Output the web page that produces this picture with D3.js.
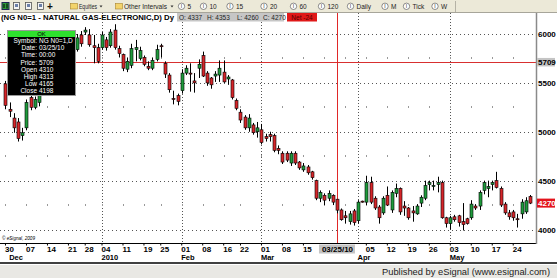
<!DOCTYPE html>
<html>
<head>
<meta charset="utf-8">
<script src="https://cdnjs.cloudflare.com/ajax/libs/d3/7.8.5/d3.min.js"></script>
<style>
body { margin: 0; background: #fff; overflow: hidden; }
</style>
</head>
<body>
<div id="canvas"></div>
<script>
var width = 557;
var height = 278;

// trading days on the chart (NG continuous, daily)
var dates = [
  "2009-11-30","2009-12-01","2009-12-02","2009-12-03","2009-12-04",
  "2009-12-07","2009-12-08","2009-12-09","2009-12-10","2009-12-11",
  "2009-12-14","2009-12-15","2009-12-16","2009-12-17","2009-12-18",
  "2009-12-21","2009-12-22","2009-12-23","2009-12-24",
  "2009-12-28","2009-12-29","2009-12-30","2009-12-31",
  "2010-01-04","2010-01-05","2010-01-06","2010-01-07","2010-01-08",
  "2010-01-11","2010-01-12","2010-01-13","2010-01-14","2010-01-15",
  "2010-01-19","2010-01-20","2010-01-21","2010-01-22",
  "2010-01-25","2010-01-26","2010-01-27","2010-01-28","2010-01-29",
  "2010-02-01","2010-02-02","2010-02-03","2010-02-04","2010-02-05",
  "2010-02-08","2010-02-09","2010-02-10","2010-02-11","2010-02-12",
  "2010-02-16","2010-02-17","2010-02-18","2010-02-19",
  "2010-02-22","2010-02-23","2010-02-24","2010-02-25","2010-02-26",
  "2010-03-01","2010-03-02","2010-03-03","2010-03-04","2010-03-05",
  "2010-03-08","2010-03-09","2010-03-10","2010-03-11","2010-03-12",
  "2010-03-15","2010-03-16","2010-03-17","2010-03-18","2010-03-19",
  "2010-03-22","2010-03-23","2010-03-24","2010-03-25","2010-03-26",
  "2010-03-29","2010-03-30","2010-03-31","2010-04-01","2010-04-02",
  "2010-04-05","2010-04-06","2010-04-07","2010-04-08","2010-04-09",
  "2010-04-12","2010-04-13","2010-04-14","2010-04-15","2010-04-16",
  "2010-04-19","2010-04-20","2010-04-21","2010-04-22","2010-04-23",
  "2010-04-26","2010-04-27","2010-04-28","2010-04-29","2010-04-30",
  "2010-05-03","2010-05-04","2010-05-05","2010-05-06","2010-05-07",
  "2010-05-10","2010-05-11","2010-05-12","2010-05-13","2010-05-14",
  "2010-05-17","2010-05-18","2010-05-19","2010-05-20","2010-05-21",
  "2010-05-24","2010-05-25","2010-05-26","2010-05-27","2010-05-28"
];

var open = [
  5490,5230,5140,5100,4960,5040,5350,5250,5300,5450,
  5520,5480,5600,5560,5700,5650,5780,5840,5990,6020,
  5990,5880,5860,5860,5940,5880,6040,5850,5790,5640,
  5680,5840,5750,5760,5670,5650,5740,5880,5700,5580,
  5340,5370,5420,5600,5600,5520,5650,5780,5600,5550,
  5570,5580,5610,5540,5530,5320,5200,5150,5040,5070,
  5000,5020,4950,4970,4960,4830,4780,4780,4680,4780,
  4690,4610,4640,4590,4500,4320,4350,4320,4350,4310,
  4200,4140,4080,4190,4090,4290,4280,4480,4320,4230,
  4170,4350,4200,4370,4420,4240,4220,4190,4160,4270,
  4320,4460,4440,4460,4480,4120,4060,4130,4140,4080,
  4110,4120,4240,4240,4400,4420,4460,4500,4420,4260,
  4170,4180,4110,4160,4180,4337
];
var high = [
  5520,5300,5190,5140,5040,5330,5380,5360,5480,5540,
  5560,5630,5640,5730,5740,5800,5870,6000,6030,6070,
  6050,5990,5900,6020,5970,6050,6100,5880,5800,5760,
  5900,5940,5870,5780,5720,5760,5890,5900,5720,5600,
  5420,5390,5640,5680,5700,5600,5740,5820,5620,5560,
  5620,5730,5730,5580,5540,5340,5230,5170,5180,5090,
  5100,5080,4980,5000,4980,4860,4800,4800,4800,4800,
  4700,4680,4660,4600,4510,4400,4370,4400,4360,4313,
  4215,4190,4190,4210,4300,4295,4550,4540,4340,4250,
  4340,4440,4400,4470,4430,4290,4230,4240,4260,4350,
  4500,4500,4500,4540,4500,4130,4140,4150,4150,4270,
  4120,4300,4260,4400,4500,4500,4500,4590,4440,4280,
  4200,4200,4160,4310,4330,4353
];
var low = [
  5230,5150,4990,4900,4910,5015,5220,5230,5260,5420,
  5450,5460,5520,5540,5620,5630,5760,5820,5870,5990,
  5870,5700,5700,5840,5830,5860,5840,5760,5620,5610,
  5650,5720,5730,5670,5630,5630,5720,5760,5550,5400,
  5280,5270,5390,5580,5410,5400,5550,5560,5470,5440,
  5510,5510,5500,5480,5330,5220,5090,5020,5000,4970,
  4940,4870,4900,4900,4790,4770,4670,4690,4650,4660,
  4610,4590,4560,4510,4300,4280,4250,4290,4250,4165,
  4090,4060,4050,4040,4060,4275,4250,4260,4200,4060,
  4150,4240,4170,4330,4150,4140,4100,4080,4150,4230,
  4300,4400,4400,4380,4110,4020,4000,4080,4030,3990,
  4050,4100,4200,4200,4360,4330,4400,4420,4230,4150,
  4100,4090,4020,4110,4160,4260
];
var close = [
  5270,5210,5040,4930,4990,5300,5250,5330,5450,5520,
  5480,5600,5560,5700,5650,5780,5850,5960,5900,6040,
  5890,5860,5720,5990,5860,6020,5860,5800,5650,5720,
  5850,5860,5830,5690,5650,5730,5840,5870,5590,5430,
  5330,5310,5600,5650,5590,5500,5690,5570,5500,5480,
  5590,5650,5510,5560,5350,5240,5120,5040,5140,4990,
  5040,4890,4930,4950,4810,4810,4690,4710,4780,4680,
  4630,4650,4580,4530,4320,4380,4300,4370,4280,4198,
  4100,4120,4160,4070,4280,4280,4480,4280,4220,4120,
  4320,4250,4380,4420,4180,4220,4120,4170,4240,4330,
  4450,4480,4450,4480,4120,4060,4120,4100,4070,4050,
  4060,4260,4220,4380,4480,4440,4480,4430,4250,4170,
  4130,4120,4100,4280,4294,4270
];

// first trading day of each week (minor grid dots)
var weekStarts = [
  "2009-11-30","2009-12-07","2009-12-14","2009-12-21","2009-12-28",
  "2010-01-04","2010-01-11","2010-01-19","2010-01-25",
  "2010-02-01","2010-02-08","2010-02-16","2010-02-22",
  "2010-03-01","2010-03-08","2010-03-15","2010-03-22","2010-03-29",
  "2010-04-05","2010-04-12","2010-04-19","2010-04-26",
  "2010-05-03","2010-05-10","2010-05-17","2010-05-24"
];
// day labels that are visible (22 and 29 Mar sit under the cursor date)
var weekTicks = [
  "2009-11-30","2009-12-07","2009-12-14","2009-12-21","2009-12-28",
  "2010-01-04","2010-01-11","2010-01-19","2010-01-25",
  "2010-02-01","2010-02-08","2010-02-16","2010-02-22",
  "2010-03-01","2010-03-08","2010-03-15",
  "2010-04-05","2010-04-12","2010-04-19","2010-04-26",
  "2010-05-03","2010-05-10","2010-05-17","2010-05-24"
];
var monthTickDates = ["2009-12-01","2010-01-04","2010-02-01","2010-03-01","2010-04-01","2010-05-03"];
var monthTickLabels = ["Dec","2010","Feb","Mar","Apr","May"];
var priceTicks = [4000, 4500, 5000, 5500, 6000];
var minorLevels = [4250, 4750, 5250, 5750];

// cursor / readouts
var cursorDate = "2010-03-25";
var cursorDateLabel = "03/25/10";
var cursorPrice = 5709;
var lastPrice = 4270;
var quoteLabels = ["O: 4337", "H: 4353", "L: 4260", "C: 4270"];
var netLabel = "Net -24";
var infoLabels = ["Symbol:", "Date:", "Time:", "Price:", "Open", "High", "Low", "Close"];
var infoValues = ["NG N0=1,D", "03/25/10", "00:00", "5709", "4310", "4313", "4165", "4198"];
var intervalItems = ["5", "10", "15", "20", "60", "120", "Daily", "M", "Tick", "W"];

var FONT = "'Liberation Sans', Arial, sans-serif";

var svg = d3.select("#canvas").append("svg")
      .attr("width", width)
      .attr("height", height)
      .style("font-family", FONT);

svg.append("rect").attr("width", width).attr("height", height).attr("fill", "#fff");

var x = d3.scaleBand().domain(dates).range([3.4, 532.1]);
var y = d3.scaleLinear().domain([4000, 6000]).range([229.5, 34]);

function cx(d) { return x(d) + x.bandwidth() / 2; }
function px(v) { return Math.round(v) + 0.5; }

// grid
var grid = svg.append("g");
grid.selectAll(".hgrid").data(priceTicks).enter().append("line")
    .attr("x1", 0).attr("x2", 536)
    .attr("y1", d => px(y(d))).attr("y2", d => px(y(d)))
    .attr("stroke", "#555").attr("stroke-dasharray", "1,3");
grid.selectAll(".vgrid").data(monthTickDates.slice(1)).enter().append("line")
    .attr("x1", d => px(cx(d))).attr("x2", d => px(cx(d)))
    .attr("y1", 13).attr("y2", 243)
    .attr("stroke", "#555").attr("stroke-dasharray", "1,2");
var minorPts = [];
weekStarts.forEach(w => minorLevels.forEach(l => minorPts.push([w, l])));
grid.selectAll(".mdot").data(minorPts).enter().append("rect")
    .attr("x", d => Math.round(cx(d[0])))
    .attr("y", d => Math.round(y(d[1])) - 1)
    .attr("width", 1).attr("height", 2)
    .attr("fill", "#999");

// crosshair
svg.append("line")
    .attr("x1", 0).attr("x2", 536)
    .attr("y1", px(y(cursorPrice))).attr("y2", px(y(cursorPrice)))
    .attr("stroke", "#d83030");
svg.append("line")
    .attr("x1", px(cx(cursorDate))).attr("x2", px(cx(cursorDate)))
    .attr("y1", 13).attr("y2", 244)
    .attr("stroke", "#e02828");

// candles
var bars = dates.map((d, i) => ({d: d, o: open[i], h: high[i], l: low[i], c: close[i]}));
var cg = svg.append("g");
cg.selectAll(".wick").data(bars).enter().append("line")
    .attr("x1", b => px(cx(b.d))).attr("x2", b => px(cx(b.d)))
    .attr("y1", b => y(b.h)).attr("y2", b => y(b.l))
    .attr("stroke", "#000");
cg.selectAll(".body").data(bars).enter().append("rect")
    .attr("x", b => Math.round(cx(b.d)) - 1)
    .attr("width", 3)
    .attr("y", b => y(Math.max(b.o, b.c)))
    .attr("height", b => Math.max(1, Math.abs(y(b.o) - y(b.c))))
    .attr("fill", b => b.c >= b.o ? "#1f9a3c" : "#d5262a")
    .attr("stroke", "#000").attr("stroke-width", 0.6);

// frame
svg.append("line").attr("x1", 0).attr("x2", 537).attr("y1", 243.5).attr("y2", 243.5).attr("stroke", "#000");
svg.append("line").attr("x1", 536.5).attr("x2", 536.5).attr("y1", 13).attr("y2", 244)
    .attr("stroke", "#8a8a8a").attr("stroke-width", 1.5);

// price axis
var gy = svg.append("g").attr("transform", "translate(536,0)")
    .call(d3.axisRight(y).tickValues(priceTicks).tickSize(0).tickPadding(2).tickFormat(d3.format("d")));
gy.select(".domain").remove();
gy.attr("font-family", FONT).attr("font-size", 8).attr("font-weight", "bold");
gy.selectAll("text").attr("fill", "#000");

// highlighted price labels
svg.append("rect").attr("x", 537).attr("y", y(cursorPrice) - 4.5).attr("width", 18).attr("height", 8.5).attr("fill", "#c4c4c4");
svg.append("text").attr("x", 538).attr("y", y(cursorPrice)).attr("dy", "0.35em")
    .attr("font-size", 8).attr("font-weight", "bold").attr("fill", "#000").text(cursorPrice);
svg.append("rect").attr("x", 537).attr("y", y(lastPrice) - 4.5).attr("width", 18).attr("height", 9).attr("fill", "#e3141c");
svg.append("text").attr("x", 538).attr("y", y(lastPrice)).attr("dy", "0.35em")
    .attr("font-size", 8).attr("font-weight", "bold").attr("fill", "#fff").text(lastPrice);

// date axis
var gx = svg.append("g").attr("transform", "translate(0,243.5)")
    .call(d3.axisBottom(x).tickValues(weekTicks).tickSize(2).tickPadding(1).tickFormat(d => d.slice(8)));
gx.select(".domain").remove();
gx.attr("font-family", FONT).attr("font-size", 8).attr("font-weight", "bold");
gx.selectAll("text").attr("text-anchor", "start").attr("x", -0.5).attr("fill", "#000");
gx.selectAll("line").attr("stroke", "#000");

var gm = svg.append("g").attr("transform", "translate(0,243.5)")
    .call(d3.axisBottom(x).tickValues(monthTickDates).tickSize(0).tickPadding(11)
      .tickFormat((d, i) => monthTickLabels[i]));
gm.select(".domain").remove();
gm.attr("font-family", FONT).attr("font-size", 7.5).attr("font-weight", "bold");
gm.selectAll("text").attr("text-anchor", "start").attr("x", -0.5).attr("fill", "#000");

// cursor date label
svg.append("rect").attr("x", cx(cursorDate) - 18).attr("y", 244.5).attr("width", 36).attr("height", 9).attr("fill", "#c4c4c4");
svg.append("text").attr("x", cx(cursorDate) + 0.5).attr("y", 252).attr("text-anchor", "middle")
    .attr("font-size", 8).attr("font-weight", "bold").attr("fill", "#000").text(cursorDateLabel);

// copyright
svg.append("text").attr("x", 2).attr("y", 240).attr("font-size", 4.5).attr("font-style", "italic")
    .attr("textLength", 33).attr("lengthAdjust", "spacingAndGlyphs").attr("fill", "#000").text("\u00a9 eSignal, 2009");

// bottom rule and footer
svg.append("line").attr("x1", 0).attr("x2", width).attr("y1", 263).attr("y2", 263)
    .attr("stroke", "#000").attr("stroke-width", 1.5);
svg.append("rect").attr("x", 0).attr("y", 264).attr("width", width).attr("height", 14).attr("fill", "#e9e8e4");
svg.append("line").attr("x1", 0).attr("x2", width).attr("y1", 264.5).attr("y2", 264.5).attr("stroke", "#fff");
svg.append("text").attr("x", 550).attr("y", 274.5).attr("text-anchor", "end")
    .attr("font-size", 9.5).attr("fill", "#222")
    .attr("textLength", 168).attr("lengthAdjust", "spacingAndGlyphs")
    .text("Published by eSignal (www.esignal.com)");

// title row
svg.append("text").attr("x", 1).attr("y", 19.8)
    .attr("font-size", 7.4).attr("font-weight", "bold").attr("fill", "#000")
    .attr("textLength", 173).attr("lengthAdjust", "spacingAndGlyphs")
    .text("(NG N0=1 - NATURAL GAS-ELECTRONIC,D) Dy");
svg.append("rect").attr("x", 177).attr("y", 13).attr("width", 107).attr("height", 8.5).attr("fill", "#c6c6c6");
var quoteX = [179, 207, 237, 263];
svg.selectAll(".quote").data(quoteLabels).enter().append("text")
    .attr("x", (d, i) => quoteX[i]).attr("y", 19.5)
    .attr("font-size", 6.5).attr("fill", "#222").text(d => d);
svg.append("rect").attr("x", 287).attr("y", 13).attr("width", 30).attr("height", 8.5).attr("fill", "#e01818");
svg.append("text").attr("x", 302).attr("y", 19.5).attr("text-anchor", "middle")
    .attr("font-size", 6.5).attr("fill", "#500").text(netLabel);

// info window
var tip = svg.append("g");
tip.append("rect").attr("x", 7.5).attr("y", 30.5).attr("width", 68).attr("height", 65)
    .attr("fill", "#000").attr("stroke", "#9a9a9a");
tip.append("rect").attr("x", 8).attr("y", 31).attr("width", 67).attr("height", 6).attr("fill", "#2ee02e");
tip.append("text").attr("x", 41.5).attr("y", 36.3).attr("text-anchor", "middle")
    .attr("font-size", 6).attr("fill", "#000").text("OK");
tip.selectAll(".lab").data(infoLabels).enter().append("text")
    .attr("x", 37).attr("y", (d, i) => 43 + i * 7.2).attr("text-anchor", "end")
    .attr("font-size", 6.5).attr("fill", "#fff").text(d => d);
tip.selectAll(".val").data(infoValues).enter().append("text")
    .attr("x", 39).attr("y", (d, i) => 43 + i * 7.2)
    .attr("font-size", 6.5).attr("fill", "#fff").text(d => d);

// toolbar
var tb = svg.append("g");
tb.append("rect").attr("width", width).attr("height", 12.5).attr("fill", "#ece9d8");
tb.append("line").attr("x1", 0).attr("x2", width).attr("y1", 12.5).attr("y2", 12.5).attr("stroke", "#a7a59a");
tb.append("rect").attr("x", 2).attr("y", 2.5).attr("width", 7).attr("height", 7).attr("fill", "#2f9a3a").attr("stroke", "#225");
tb.append("rect").attr("x", 3.5).attr("y", 4).attr("width", 1).attr("height", 4).attr("fill", "#000");
tb.append("rect").attr("x", 6.5).attr("y", 3.5).attr("width", 1).attr("height", 5).attr("fill", "#000");
[13.5, 25.5, 37.5].forEach(function(ix) {
  tb.append("rect").attr("x", ix).attr("y", 2.5).attr("width", 6).attr("height", 7)
    .attr("fill", "#f4f4f4").attr("stroke", "#555").attr("stroke-width", 0.8);
  tb.append("rect").attr("x", ix + 1.5).attr("y", 4).attr("width", 3).attr("height", 3).attr("fill", "#6b7fa8");
});
tb.append("text").attr("x", 50).attr("y", 10).attr("text-anchor", "middle")
    .attr("font-size", 10).attr("font-weight", "bold").attr("fill", "#111").text("+");
[70, 115].forEach(function(fx) {
  tb.append("rect").attr("x", fx + 0.5).attr("y", 3.5).attr("width", 7).attr("height", 5.5)
    .attr("fill", "#f3d36b").attr("stroke", "#a8842c").attr("stroke-width", 0.6);
});
tb.append("text").attr("x", 79).attr("y", 9).attr("font-size", 6.5).attr("fill", "#222")
    .attr("textLength", 18).attr("lengthAdjust", "spacingAndGlyphs").text("Equities");
tb.append("text").attr("x", 124).attr("y", 9).attr("font-size", 6.5).attr("fill", "#222")
    .attr("textLength", 43).attr("lengthAdjust", "spacingAndGlyphs").text("Other Intervals");
[101, 172].forEach(function(ax) {
  tb.append("path").attr("d", "M" + (ax - 1.5) + ",5.5L" + (ax + 1.5) + ",5.5L" + ax + ",7.5Z").attr("fill", "#333");
});
var iconX = [181.5, 203.5, 230, 264, 293.5, 321.5, 350.5, 385, 406.5, 435];
intervalItems.forEach(function(t, i) {
  tb.append("circle").attr("cx", iconX[i]).attr("cy", 6.3).attr("r", 3.2)
    .attr("fill", "#fff").attr("stroke", "#444").attr("stroke-width", 0.6);
  tb.append("text").attr("x", iconX[i]).attr("y", 8.2).attr("text-anchor", "middle")
    .attr("font-size", 5).attr("fill", "#222").text("I");
  tb.append("text").attr("x", iconX[i] + 6).attr("y", 9).attr("font-size", 6.5).attr("fill", "#222").text(t);
});
tb.append("line").attr("x1", 455.5).attr("x2", 455.5).attr("y1", 1).attr("y2", 12).attr("stroke", "#b5b2a5");
</script>
</body>
</html>
